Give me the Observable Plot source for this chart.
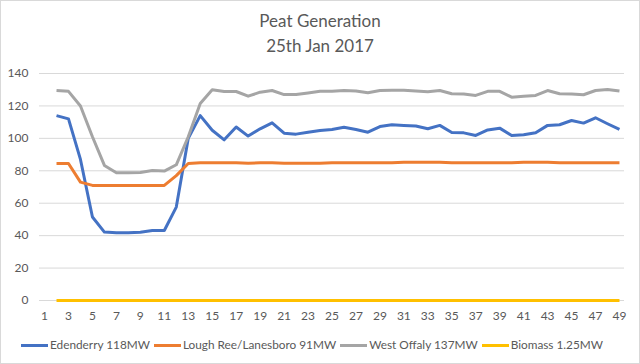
<!DOCTYPE html>
<html>
<head>
<meta charset="utf-8">
<script src="https://cdn.jsdelivr.net/npm/d3@7"></script>
<script src="https://cdn.jsdelivr.net/npm/@observablehq/plot@0.6"></script>
<style>
  html, body { margin: 0; padding: 0; background: #fff; }
  #wrap { position: relative; width: 640px; height: 364px; background: #fff; overflow: hidden; font-family: Lato, "Open Sans", sans-serif; }
  #border { position: absolute; left: 0; top: 0; width: 640px; height: 364px; box-sizing: border-box; border: 1px solid #d9d9d9; pointer-events: none; }
  #title { position: absolute; left: 0; top: 8px; width: 640px; text-align: center; color: #595959; font-size: 17px; line-height: 25px; }
  #chart { position: absolute; left: 0; top: 0; }
  #legend { position: absolute; left: 0; top: 337px; width: 640px; display: flex; justify-content: center; gap: 4px; color: #595959; font-size: 11.8px; line-height: 16px; padding-right: 16px; box-sizing: border-box; }
  .item { display: flex; align-items: center; }
  .sw { display: inline-block; width: 27px; height: 3px; margin-right: 2px; }
</style>
</head>
<body>
<div id="wrap">
  <div id="chart"></div>
  <div id="title">Peat Generation<br>25th Jan 2017</div>
  <div id="legend"></div>
  <div id="border"></div>
</div>
<script>
// Categories (half-hour periods shown on the axis as 1..49)
const periods = [2,3,4,5,6,7,8,9,10,11,12,13,14,15,16,17,18,19,20,21,22,23,24,25,26,27,28,29,30,31,32,33,34,35,36,37,38,39,40,41,42,43,44,45,46,47,48,49];
const xTicks = [1,3,5,7,9,11,13,15,17,19,21,23,25,27,29,31,33,35,37,39,41,43,45,47,49];
const yTicks = [0,20,40,60,80,100,120,140];

const seriesNames = ["Edenderry 118MW", "Lough Ree/Lanesboro 91MW", "West Offaly 137MW", "Biomass 1.25MW"];
const seriesColors = ["#4472C4", "#ED7D31", "#A5A5A5", "#FFC000"];

const edenderry = [114,112,87,51.5,42.2,41.8,41.8,42.1,43.2,43.2,57.6,100,114,105,99.1,107,101.4,105.9,109.6,103.2,102.6,103.8,104.9,105.5,106.9,105.5,103.8,107.3,108.4,108,107.6,105.9,108,103.6,103.4,101.8,105.2,106.3,101.8,102.2,103.4,108,108.4,111,109.4,112.7,109,105.5];
const loughRee = [84.5,84.5,73,71,71,71,71,71,71,71,77,84.5,85,85,85,85,84.6,85,85,84.7,84.7,84.7,84.7,85,85,85,85,85,85,85.3,85.3,85.3,85.3,85,85,85,85,85,85,85.2,85.3,85.2,85,85,85,85,85,85];
const westOffaly = [129.5,129,120,101,83.3,78.8,78.8,79,80.2,79.8,83.7,101,121.5,130,128.9,128.9,126,128.5,129.5,127,127,128,129,129,129.5,129.2,128.1,129.5,129.7,129.7,129.2,128.8,129.5,127.5,127.3,126.5,129,129,125.4,126,126.5,129.5,127.5,127.3,126.9,129.5,130.2,129.2];
const biomass = [0,0,0,0,0,0,0,0,0,0,0,0,0,0,0,0,0,0,0,0,0,0,0,0,0,0,0,0,0,0,0,0,0,0,0,0,0,0,0,0,0,0,0,0,0,0,0,0];

const allSeries = [edenderry, loughRee, westOffaly, biomass];
const rows = [];
allSeries.forEach((vals, si) => {
  vals.forEach((v, i) => rows.push({period: periods[i], value: v, series: seriesNames[si]}));
});

const chart = Plot.plot({
  width: 640,
  height: 364,
  marginTop: 73,
  marginBottom: 64,
  marginLeft: 39,
  marginRight: 16,
  style: { fontFamily: "Lato, 'Open Sans', sans-serif", fontSize: "12px", color: "#595959", background: "transparent" },
  x: { type: "linear", domain: [0.58, 49.42], label: null },
  y: { domain: [0, 140], label: null },
  color: { domain: seriesNames, range: seriesColors },
  marks: [
    Plot.ruleY(yTicks, { stroke: "#d9d9d9", strokeWidth: 1 }),
    Plot.axisX({ ticks: xTicks, tickSize: 0, tickPadding: 11, tickFormat: d3.format("d"), label: null, fill: "#595959" }),
    Plot.axisY({ ticks: yTicks, tickSize: 0, tickPadding: 11, label: null, fill: "#595959" }),
    Plot.line(rows, { x: "period", y: "value", z: "series", stroke: "series", strokeWidth: 3, strokeLinejoin: "round", strokeLinecap: "butt" })
  ]
});
document.getElementById("chart").appendChild(chart);

const legend = document.getElementById("legend");
seriesNames.forEach((name, i) => {
  const item = document.createElement("div");
  item.className = "item";
  const sw = document.createElement("span");
  sw.className = "sw";
  sw.style.background = seriesColors[i];
  const t = document.createElement("span");
  t.textContent = name;
  item.appendChild(sw);
  item.appendChild(t);
  legend.appendChild(item);
});
</script>
</body>
</html>
